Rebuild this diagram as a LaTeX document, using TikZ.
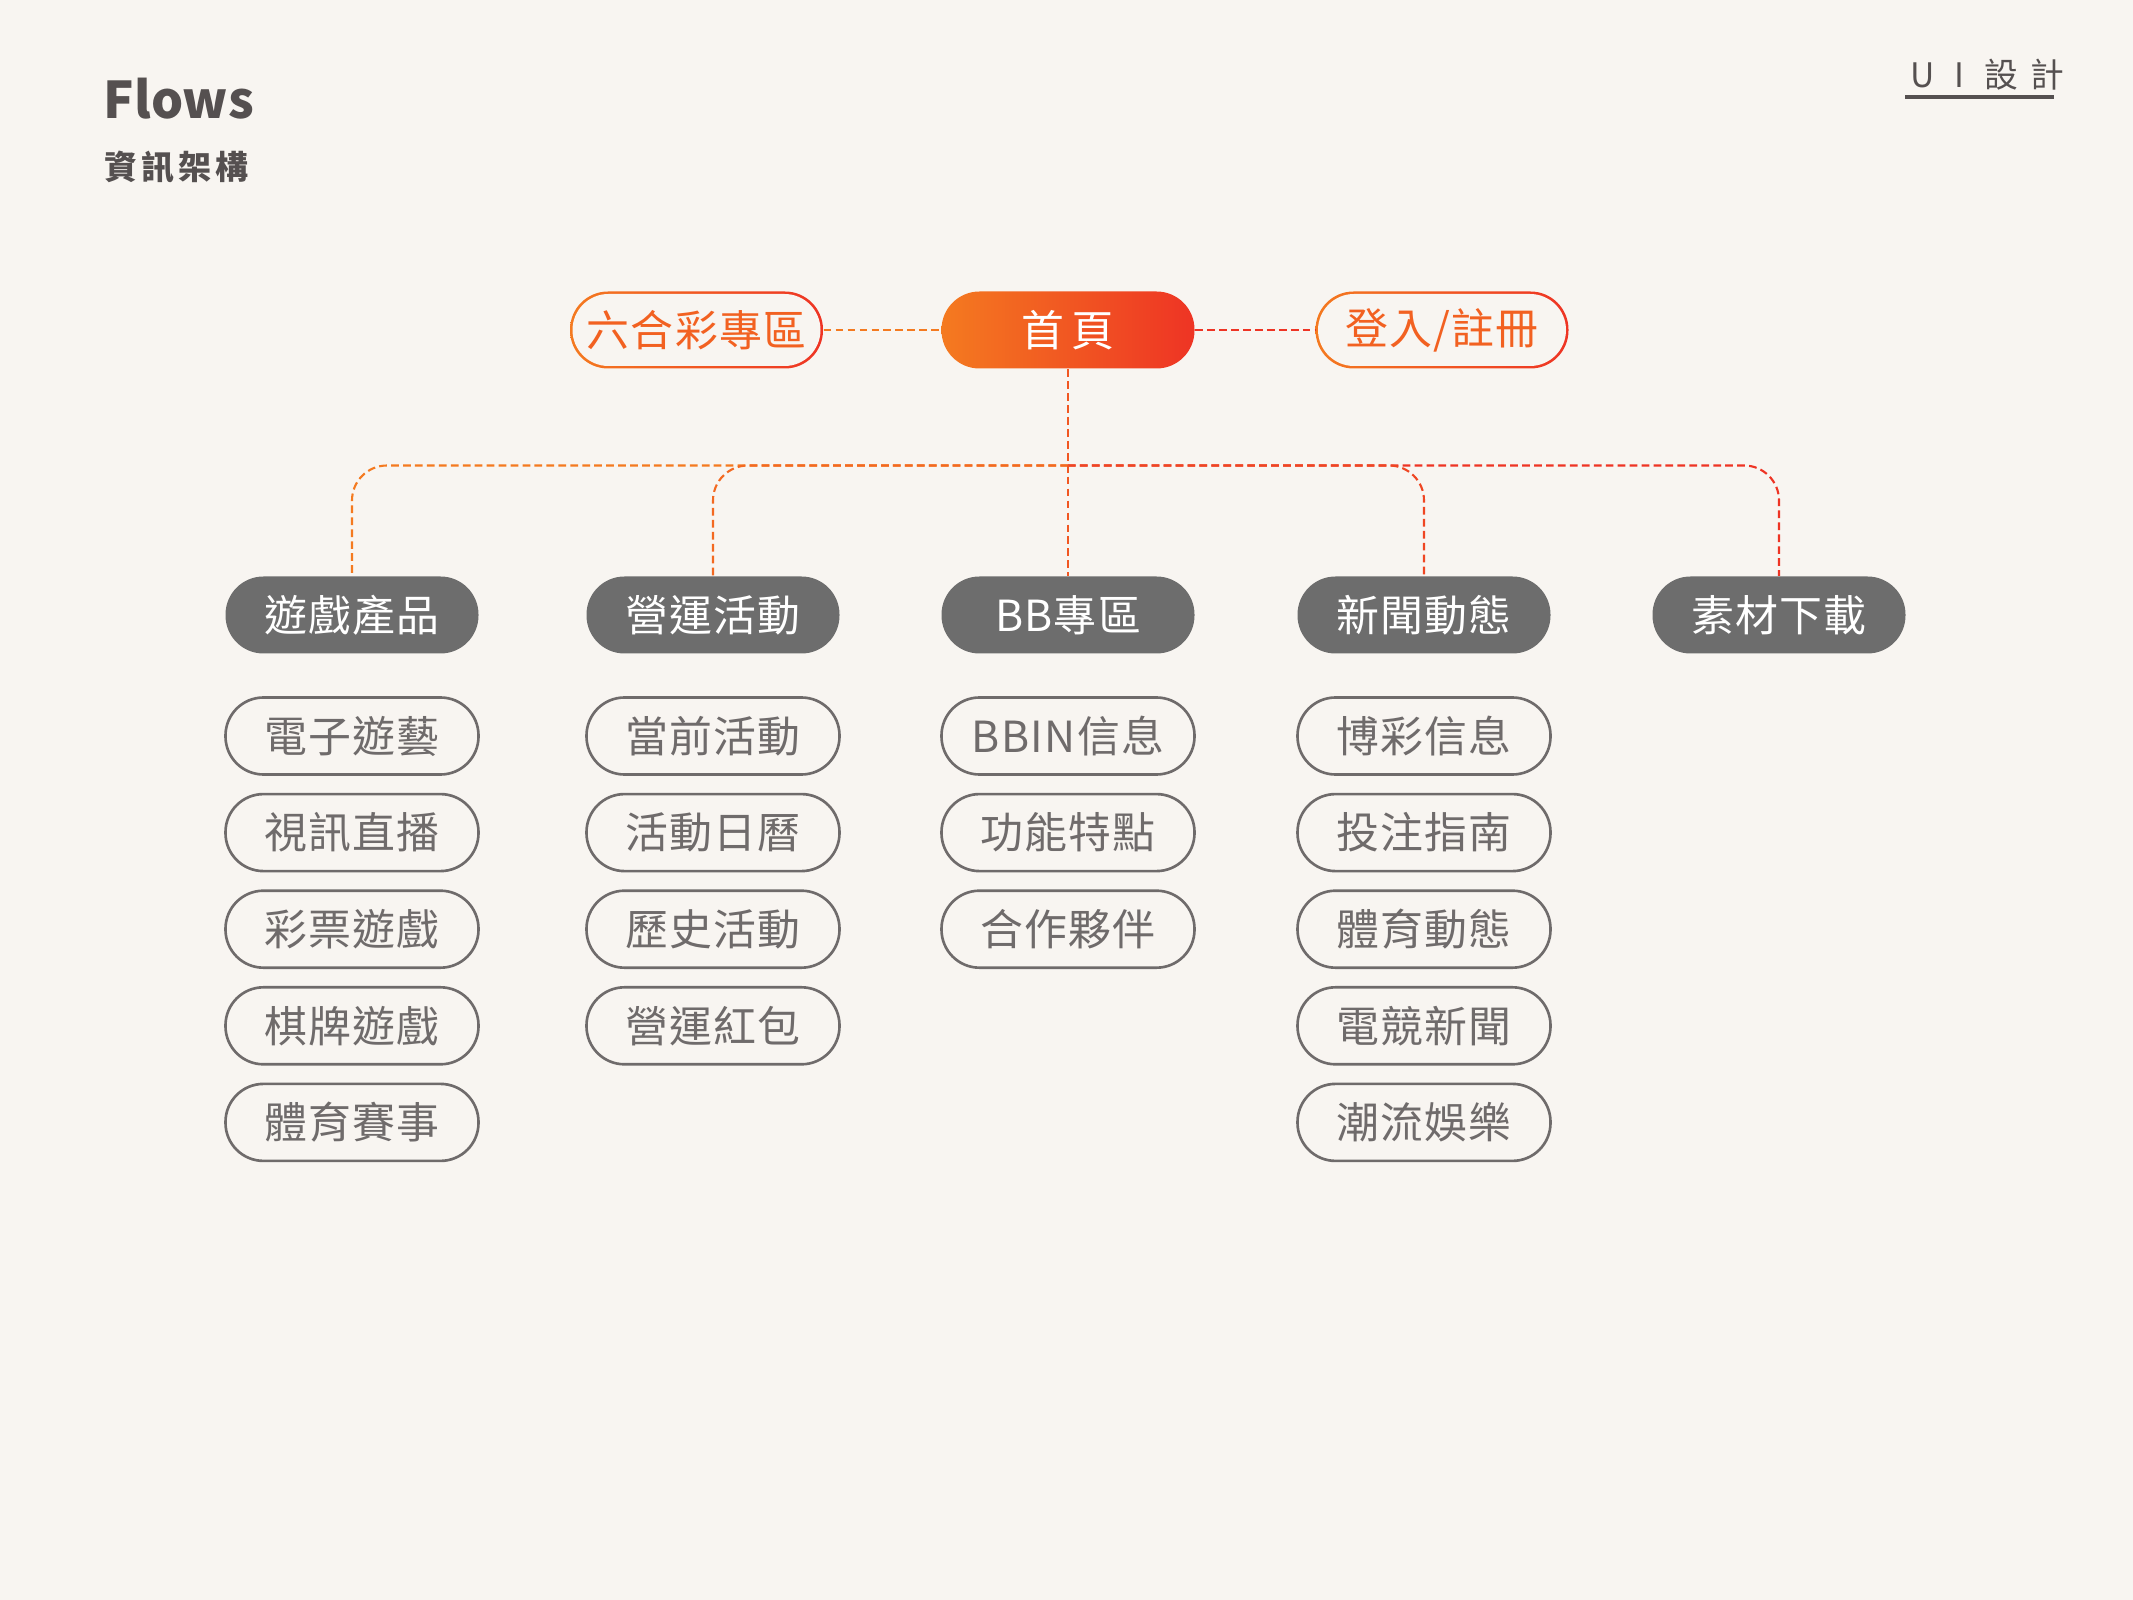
\documentclass[tikz,border=0pt]{standalone}
\usepackage{fontspec}
\setmainfont{Noto Sans CJK TC}
\usetikzlibrary{positioning}
\definecolor{bg}{HTML}{F8F5F1}
\definecolor{ttl}{HTML}{555050}
\definecolor{drk}{HTML}{6D6D6D}
\definecolor{gry}{HTML}{6F6B6B}
\definecolor{orng}{HTML}{F47A20}
\definecolor{rd}{HTML}{EE3424}
\tikzset{
  pill/.style={rounded corners=3.8mm,minimum width=2.53cm,minimum height=7.7mm,
               inner sep=0pt,font=\fontsize{12.2}{14}\selectfont\addfontfeature{LetterSpace=3}},
  dark/.style={pill,fill=drk,text=white},
  sub/.style={pill,draw=gry,line width=.75pt,text=gry},
  hot/.style={pill,left color=orng,right color=rd},
  hotin/.style={pill,fill=bg,minimum width=2.48cm,minimum height=7.2mm,
                rounded corners=3.6mm,text=orng!65!rd},
  lnk/.style={line width=.6pt,dash pattern=on 2.2pt off 1.2pt},
}
\begin{document}
\begin{tikzpicture}
  \useasboundingbox[fill=bg] (0,0) rectangle (21.33,-16);
  % title
  \node[anchor=west,inner sep=0pt,text=ttl,font=\fontsize{14.4}{17}\selectfont\bfseries]
       (flows) at (1.03,-0.99) {Flows};
  \node[anchor=west,inner sep=0pt,text=ttl,
        font=\fontsize{9.4}{11}\selectfont\bfseries\addfontfeature{LetterSpace=12}]
       (ia) at (1.04,-1.67) {資訊架構};
  \node[anchor=west,inner sep=0pt,text=ttl,
        font=\fontsize{9.6}{11}\selectfont\addfontfeature{LetterSpace=36}]
       (ui) at (19.10,-0.75) {U I 設計};
  \draw[ttl,line width=1.2pt] ([yshift=-0.6mm,xshift=-0.5mm]ui.south west)
       -- ([yshift=-0.6mm,xshift=-1.1mm]ui.south east);
  % top row
  \node[hot] (liuhe) at (6.965,-3.30) {};
  \node[hotin] (liuhe-in) at (liuhe) {六合彩專區};
  \node[hot,text=white,font=\fontsize{12.2}{14}\selectfont\addfontfeature{LetterSpace=18}]
       (home) at (10.68,-3.30) {首頁};
  \node[hot] (login) at (14.42,-3.30) {};
  \node[hotin] (login-in) at (login) {登入/註冊};
  % second row
  \node[dark] (game) at (3.52,-6.15) {遊戲產品};
  \node[dark] (op)   at (7.13,-6.15) {營運活動};
  \node[dark] (bb)   at (10.68,-6.15) {BB專區};
  \node[dark] (news) at (14.24,-6.15) {新聞動態};
  \node[dark] (mat)  at (17.79,-6.15) {素材下載};
  % links
  \coordinate (bus) at (10.68,-4.655);
  \draw[lnk,orng] (liuhe) -- (home);
  \draw[lnk,rd] (home) -- (login);
  \draw[lnk,orng,rounded corners=3.5mm] (bus) -| (game);
  \draw[lnk,rd,rounded corners=3.5mm] (bus) -| (mat);
  \draw[lnk,orng!75!rd,rounded corners=3.5mm] (bus) -| (op);
  \draw[lnk,orng!25!rd,rounded corners=3.5mm] (bus) -| (news);
  \draw[lnk,orng!50!rd] (home) -- (bb);
  % sub items
  \foreach \t [count=\i] in {電子遊藝,視訊直播,彩票遊戲,棋牌遊戲,體育賽事}
     \node[sub] (game\i) at (3.52,{-7.36-(\i-1)*0.966}) {\t};
  \foreach \t [count=\i] in {當前活動,活動日曆,歷史活動,營運紅包}
     \node[sub] (op\i) at (7.13,{-7.36-(\i-1)*0.966}) {\t};
  \foreach \t [count=\i] in {BBIN信息,功能特點,合作夥伴}
     \node[sub] (bb\i) at (10.68,{-7.36-(\i-1)*0.966}) {\t};
  \foreach \t [count=\i] in {博彩信息,投注指南,體育動態,電競新聞,潮流娛樂}
     \node[sub] (news\i) at (14.24,{-7.36-(\i-1)*0.966}) {\t};
\end{tikzpicture}
\end{document}
